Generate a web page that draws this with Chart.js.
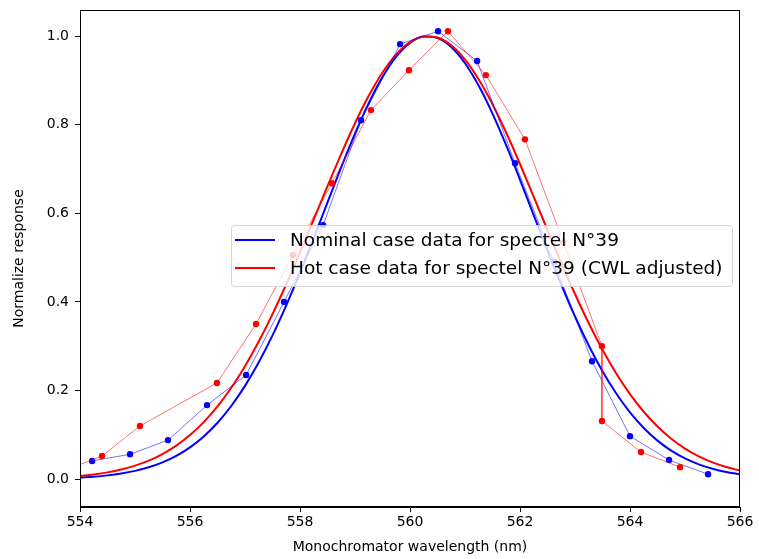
<!DOCTYPE html>
<html>
<head>
<meta charset="utf-8">
<script src="https://cdn.jsdelivr.net/npm/chart.js@4.4.1/dist/chart.umd.min.js"></script>
<style>
  html, body { margin: 0; padding: 0; background: #ffffff; }
  #wrap { width: 759px; height: 559px; }
</style>
</head>
<body>
<div id="wrap"><canvas id="c" width="759" height="559"></canvas></div>
<script>
// ---- data ----
const nominalWavelengths = [554.22, 554.91, 555.6, 556.31, 557.02, 557.71, 558.42, 559.11, 559.82, 560.51, 561.22, 561.91, 562.62, 563.31, 564.0, 564.71, 565.42];
const nominalResponse    = [0.041, 0.056, 0.088, 0.167, 0.235, 0.400, 0.573, 0.810, 0.982, 1.011, 0.944, 0.713, 0.490, 0.266, 0.097, 0.043, 0.011];

const hotWavelengths = [553.69, 554.40, 555.09, 556.49, 557.20, 557.87, 558.58, 559.29, 559.98, 560.69, 561.38, 562.09, 562.79, 563.49, 563.49, 564.20, 564.91];
const hotResponse    = [0.018, 0.052, 0.120, 0.217, 0.350, 0.506, 0.668, 0.833, 0.923, 1.011, 0.912, 0.767, 0.535, 0.300, 0.131, 0.061, 0.027];

const fitWavelengths = [554.00, 554.25, 554.50, 554.75, 555.00, 555.25, 555.50, 555.75, 556.00, 556.25, 556.50, 556.75,
                        557.00, 557.25, 557.50, 557.75, 558.00, 558.25, 558.50, 558.75, 559.00, 559.25, 559.50, 559.75,
                        560.00, 560.25, 560.50, 560.75, 561.00, 561.25, 561.50, 561.75, 562.00, 562.25, 562.50, 562.75,
                        563.00, 563.25, 563.50, 563.75, 564.00, 564.25, 564.50, 564.75, 565.00, 565.25, 565.50, 565.75, 566.00];
const nominalFit = [0.0036, 0.0055, 0.0084, 0.0126, 0.0185, 0.0266, 0.0377, 0.0524, 0.0716, 0.0963, 0.1272, 0.1650,
                    0.2104, 0.2636, 0.3244, 0.3923, 0.4662, 0.5444, 0.6245, 0.7041, 0.7798, 0.8488, 0.9077, 0.9538,
                    0.9848, 0.9991, 0.9959, 0.9755, 0.9388, 0.8878, 0.8250, 0.7532, 0.6757, 0.5956, 0.5159, 0.4390,
                    0.3671, 0.3017, 0.2435, 0.1932, 0.1506, 0.1153, 0.0868, 0.0642, 0.0466, 0.0333, 0.0234, 0.0161, 0.0109];
const hotFit     = [0.0072, 0.0106, 0.0152, 0.0216, 0.0303, 0.0417, 0.0565, 0.0755, 0.0993, 0.1286, 0.1641, 0.2061,
                    0.2549, 0.3105, 0.3724, 0.4399, 0.5117, 0.5861, 0.6612, 0.7343, 0.8033, 0.8653, 0.9179, 0.9588,
                    0.9863, 0.9991, 0.9967, 0.9791, 0.9471, 0.9022, 0.8464, 0.7818, 0.7113, 0.6372, 0.5621, 0.4883,
                    0.4178, 0.3519, 0.2920, 0.2385, 0.1919, 0.1520, 0.1186, 0.0911, 0.0689, 0.0514, 0.0377, 0.0272, 0.0194];

const xTickValues = [554, 556, 558, 560, 562, 564, 566];
const yTickValues = [0.0, 0.2, 0.4, 0.6, 0.8, 1.0];

const nominalLabel = 'Nominal case data for spectel N°39';
const hotLabel = 'Hot case data for spectel N°39 (CWL adjusted)';
const xTitle = 'Monochromator wavelength (nm)';
const yTitle = 'Normalize response';

// ---- helpers ----
const pts = (xs, ys) => xs.map((x, i) => ({ x: x, y: ys[i] }));
const FONT = '"DejaVu Sans", "Liberation Sans", sans-serif';

const framePlugin = {
  id: 'frame',
  afterDraw(chart) {
    const { ctx, chartArea: a } = chart;
    ctx.save();
    ctx.strokeStyle = '#000000';
    ctx.lineWidth = 1;
    ctx.strokeRect(Math.round(a.left) + 0.5, Math.round(a.top) + 0.5,
                   Math.round(a.right - a.left) - 1, Math.round(a.bottom - a.top) - 1);
    ctx.restore();
  }
};

const boxLegendPlugin = {
  id: 'boxLegend',
  afterDatasetsDraw(chart) {
    const { ctx, chartArea: a } = chart;
    const items = chart.data.datasets.filter(d => d.legendEntry);
    const F = 18.5;
    ctx.save();
    ctx.font = F + 'px ' + FONT;
    const textW = Math.max.apply(null, items.map(d => ctx.measureText(d.label).width));
    const w = Math.round(4 + 40 + 15 + textW + 9);
    const h = 61;
    const x0 = Math.round(a.right - 8 - w);
    const y0 = Math.round((a.top + a.bottom) / 2 - h / 2 - 3);
    ctx.beginPath();
    ctx.roundRect(x0 + 0.5, y0 + 0.5, w, h, 3);
    ctx.fillStyle = 'rgba(255,255,255,0.8)';
    ctx.fill();
    ctx.strokeStyle = 'rgba(204,204,204,0.8)';
    ctx.lineWidth = 1;
    ctx.stroke();
    items.forEach((d, i) => {
      const cy = y0 + 15 + i * 28;
      ctx.beginPath();
      ctx.moveTo(x0 + 4, cy);
      ctx.lineTo(x0 + 44, cy);
      ctx.strokeStyle = d.borderColor;
      ctx.lineWidth = 2;
      ctx.stroke();
      ctx.fillStyle = '#000000';
      ctx.textBaseline = 'middle';
      ctx.textAlign = 'left';
      ctx.fillText(d.label, x0 + 59, cy + 1);
    });
    ctx.restore();
  }
};

new Chart(document.getElementById('c'), {
  type: 'line',
  data: {
    datasets: [
      {
        label: 'nominal data',
        data: pts(nominalWavelengths, nominalResponse),
        borderColor: 'rgba(0,0,255,0.7)',
        borderWidth: 0.8,
        pointRadius: 3.2,
        pointBackgroundColor: '#0000ff',
        pointBorderWidth: 0,
        tension: 0,
        order: 2
      },
      {
        label: 'hot data',
        data: pts(hotWavelengths, hotResponse),
        borderColor: 'rgba(255,0,0,0.7)',
        borderWidth: 0.8,
        pointRadius: 3.2,
        pointBackgroundColor: '#ff0000',
        pointBorderWidth: 0,
        tension: 0,
        order: 1
      },
      {
        label: nominalLabel,
        legendEntry: true,
        data: pts(fitWavelengths, nominalFit),
        borderColor: '#0000ff',
        borderWidth: 2,
        pointRadius: 0,
        cubicInterpolationMode: 'monotone',
        order: 4
      },
      {
        label: hotLabel,
        legendEntry: true,
        data: pts(fitWavelengths, hotFit),
        borderColor: '#ff0000',
        borderWidth: 2,
        pointRadius: 0,
        cubicInterpolationMode: 'monotone',
        order: 3
      }
    ]
  },
  options: {
    responsive: false,
    animation: false,
    devicePixelRatio: 1,
    layout: { padding: { left: 0, right: 19, top: 10, bottom: 0 } },
    plugins: { legend: { display: false }, tooltip: { enabled: false } },
    scales: {
      x: {
        type: 'linear',
        min: 554, max: 566,
        afterBuildTicks: s => { s.ticks = xTickValues.map(v => ({ value: v })); },
        afterFit: s => { s.height = 52; s.paddingLeft = 0; s.paddingRight = 0; },
        ticks: { color: '#000', font: { family: FONT, size: 14 }, padding: 2, maxRotation: 0,
                 callback: v => String(v) },
        grid: { drawOnChartArea: false, drawTicks: true, tickLength: 5, color: '#000', tickWidth: 1 },
        border: { display: true, color: '#000', width: 1 },
        title: { display: true, text: xTitle, color: '#000', font: { family: FONT, size: 14 },
                 padding: { top: 0, bottom: 3 } }
      },
      y: {
        type: 'linear',
        min: -0.063, max: 1.059,
        afterBuildTicks: s => { s.ticks = yTickValues.map(v => ({ value: v })); },
        afterFit: s => { s.width = 80; s.paddingTop = 0; s.paddingBottom = 0; },
        ticks: { color: '#000', font: { family: FONT, size: 14 }, padding: 6,
                 callback: v => Number(v).toFixed(1) },
        grid: { drawOnChartArea: false, drawTicks: true, tickLength: 5, color: '#000', tickWidth: 1 },
        border: { display: true, color: '#000', width: 1 },
        title: { display: true, text: yTitle, color: '#000', font: { family: FONT, size: 14 },
                 padding: { top: 11, bottom: 0 } }
      }
    }
  },
  plugins: [boxLegendPlugin, framePlugin]
});
</script>
</body>
</html>
